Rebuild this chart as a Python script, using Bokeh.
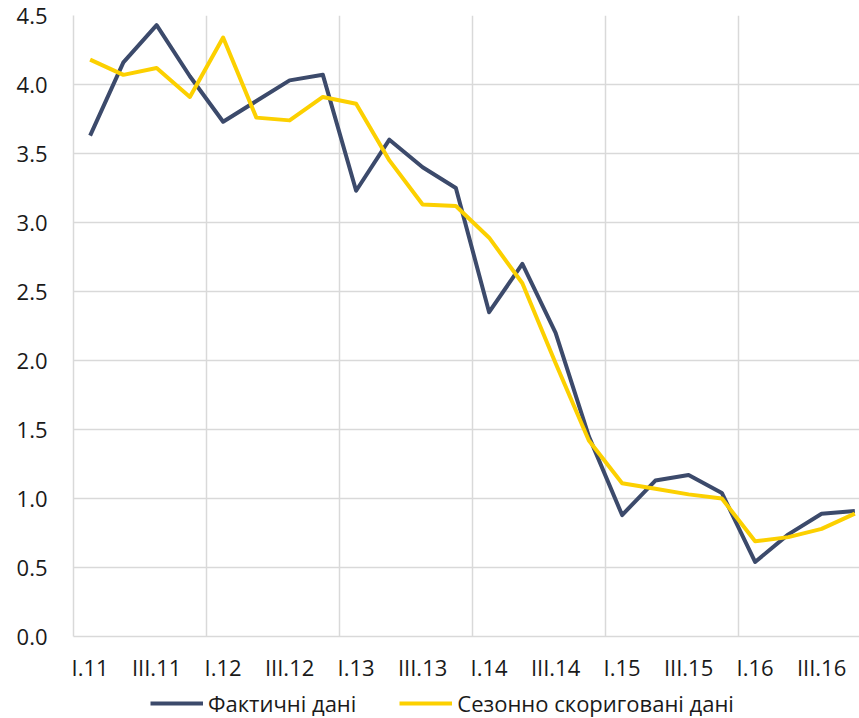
from bokeh.plotting import figure
from bokeh.layouts import column
from bokeh.models import FixedTicker, Legend, LegendItem, Range1d, NumeralTickFormatter
from bokeh.embed import file_html
from bokeh.resources import INLINE

quarters = ["I.11", "II.11", "III.11", "IV.11",
            "I.12", "II.12", "III.12", "IV.12",
            "I.13", "II.13", "III.13", "IV.13",
            "I.14", "II.14", "III.14", "IV.14",
            "I.15", "II.15", "III.15", "IV.15",
            "I.16", "II.16", "III.16", "IV.16"]
actual = [3.63, 4.16, 4.43, 4.06, 3.73, 3.88, 4.03, 4.07,
          3.23, 3.60, 3.40, 3.25, 2.35, 2.70, 2.20, 1.45,
          0.88, 1.13, 1.17, 1.04, 0.54, 0.74, 0.89, 0.91]
seasonal = [4.18, 4.07, 4.12, 3.91, 4.34, 3.76, 3.74, 3.91,
            3.86, 3.45, 3.13, 3.12, 2.89, 2.56, 1.98, 1.42,
            1.11, 1.07, 1.03, 1.00, 0.69, 0.72, 0.78, 0.89]
series_names = ["Фактичні дані", "Сезонно скориговані дані"]
y_ticks = [0.0, 0.5, 1.0, 1.5, 2.0, 2.5, 3.0, 3.5, 4.0, 4.5]

FONT = "Open Sans"
DARK = "#3C4A6B"
YELLOW = "#FCD000"
GRID = "#D9D9D9"

xs = [i + 0.5 for i in range(len(quarters))]

p = figure(frame_width=786, frame_height=621, output_backend="svg", toolbar_location=None,
           x_range=Range1d(0, 23.64), y_range=Range1d(0, 4.5),
           min_border_left=73, min_border_right=0, min_border_top=15,
           min_border_bottom=48)
p.outline_line_color = None

p.line(xs, actual, line_color=DARK, line_width=4, line_join="round")
p.line(xs, seasonal, line_color=YELLOW, line_width=4, line_join="round")

label_ticks = [xs[i] for i in range(0, len(quarters), 2)]
p.xaxis.ticker = FixedTicker(ticks=label_ticks)
p.xaxis.major_label_overrides = {xs[i]: quarters[i] for i in range(0, len(quarters), 2)}
p.xgrid.ticker = FixedTicker(ticks=[4, 8, 12, 16, 20])
p.xgrid.grid_line_color = GRID
p.xgrid.grid_line_width = 1.5

p.yaxis.ticker = FixedTicker(ticks=y_ticks)
p.yaxis.formatter = NumeralTickFormatter(format="0.0")
p.ygrid.grid_line_color = GRID
p.ygrid.grid_line_width = 1.5

for ax in (p.xaxis[0], p.yaxis[0]):
    ax.axis_line_color = GRID
    ax.axis_line_width = 1.5
    ax.major_tick_line_color = None
    ax.minor_tick_line_color = None
    ax.major_tick_out = 0
    ax.major_tick_in = 0
    ax.major_label_text_font = FONT
    ax.major_label_text_font_size = "22px"
    ax.major_label_text_color = "#1a1a1a"
p.yaxis.major_label_standoff = 26
p.xaxis.major_label_standoff = 15

# legend strip underneath the chart (its frame is aligned with the chart frame)
lg = figure(width=859, height=34, output_backend="svg", toolbar_location=None,
            x_range=Range1d(0, 23.64), y_range=Range1d(100, 101),
            min_border_left=73, min_border_right=0, min_border_top=0,
            min_border_bottom=0, x_axis_location=None, y_axis_location=None)
lg.outline_line_color = None
lg.grid.visible = False
d1 = lg.line(xs, actual, line_color=DARK, line_width=4)
d2 = lg.line(xs, seasonal, line_color=YELLOW, line_width=4)

legend = Legend(items=[LegendItem(label=series_names[0], renderers=[d1]),
                       LegendItem(label=series_names[1], renderers=[d2])],
                orientation="horizontal", location=(77, 0),
                label_text_font=FONT, label_text_font_size="22px",
                label_text_color="#1a1a1a",
                glyph_width=53, glyph_height=22, label_standoff=5,
                spacing=43, padding=0, margin=0,
                border_line_color=None, background_fill_alpha=0)
lg.add_layout(legend, "center")

layout = column(p, lg, spacing=0)
open("out.html", "w").write(file_html(layout, INLINE))
